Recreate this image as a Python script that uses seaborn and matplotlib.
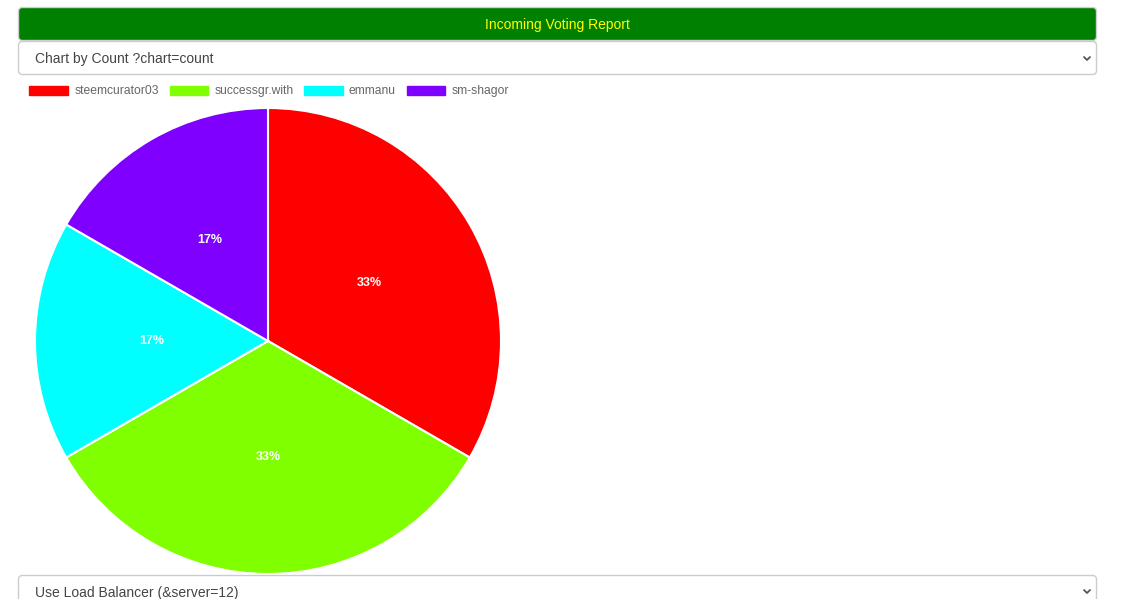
import matplotlib
matplotlib.use("Agg")
import matplotlib.pyplot as plt
import seaborn as sns
from matplotlib.patches import FancyBboxPatch, Patch

# data
voters = ["steemcurator03", "successgr.with", "emmanu", "sm-shagor"]
counts = [2, 2, 1, 1]
colors = ["#FF0000", "#80FF00", "#00FFFF", "#8000FF"]
title = "Incoming Voting Report"
select_top = "Chart by Count ?chart=count"
select_bottom = "Use Load Balancer (&server=12)"

sns.set_theme(style="white")
plt.rcParams['font.family'] = ['Liberation Sans', 'DejaVu Sans']

W, H = 1125, 599
fig = plt.figure(figsize=(W / 100, H / 100), dpi=100)
fig.patch.set_facecolor("white")

# background axes in pixel coordinates for the page elements
bg = fig.add_axes([0, 0, 1, 1])
bg.set_xlim(0, W)
bg.set_ylim(H, 0)
bg.axis("off")

def box(x0, y0, x1, y1, face, edge):
    p = FancyBboxPatch((x0, y0), x1 - x0, y1 - y0,
                       boxstyle="round,pad=0,rounding_size=4",
                       facecolor=face, edgecolor=edge, linewidth=1)
    bg.add_patch(p)

# header
box(18.5, 7.5, 1096.5, 40.5, "#008000", "#d0d0d0")
bg.text(557, 24.5, title, color="#FFFF00", fontsize=10, ha="center", va="center")

# top select
box(18.5, 41.5, 1096.5, 74.5, "white", "#cccccc")
bg.text(35, 58.5, select_top, color="#444444", fontsize=10, ha="left", va="center")
bg.plot([1084, 1087, 1090], [57, 60, 57], color="#555555", lw=1.3)

# bottom select
box(18.5, 575.5, 1096.5, 612, "white", "#cccccc")
bg.text(35, 592.5, select_bottom, color="#444444", fontsize=10, ha="left", va="center")
bg.plot([1084, 1087, 1090], [590, 593, 590], color="#555555", lw=1.3)

# pie
r = 233
cx, cy = 268, 341
ax = fig.add_axes([(cx - r) / W, (H - cy - r) / H, 2 * r / W, 2 * r / H])
wedges, texts, autotexts = ax.pie(
    counts, colors=colors, startangle=90, counterclock=False,
    autopct="%.0f%%", pctdistance=0.5,
    wedgeprops=dict(edgecolor="white", linewidth=1.5),
    textprops=dict(color="white", fontsize=9, fontweight="bold"))
ax.set_aspect("equal")
ax.set_xlim(-1, 1)
ax.set_ylim(-1, 1)
ax.axis("off")

# legend
handles = [Patch(facecolor=c, edgecolor=c) for c in colors]
fig.legend(handles, voters, loc="upper left", ncol=4,
           bbox_to_anchor=(21 / W, 1 - 77 / H), frameon=False,
           fontsize=8.7, labelcolor="#666666",
           handlelength=3.2, handleheight=0.8, handletextpad=0.5,
           columnspacing=0.9, borderpad=0.2)

fig.savefig("out.png", dpi=100)
